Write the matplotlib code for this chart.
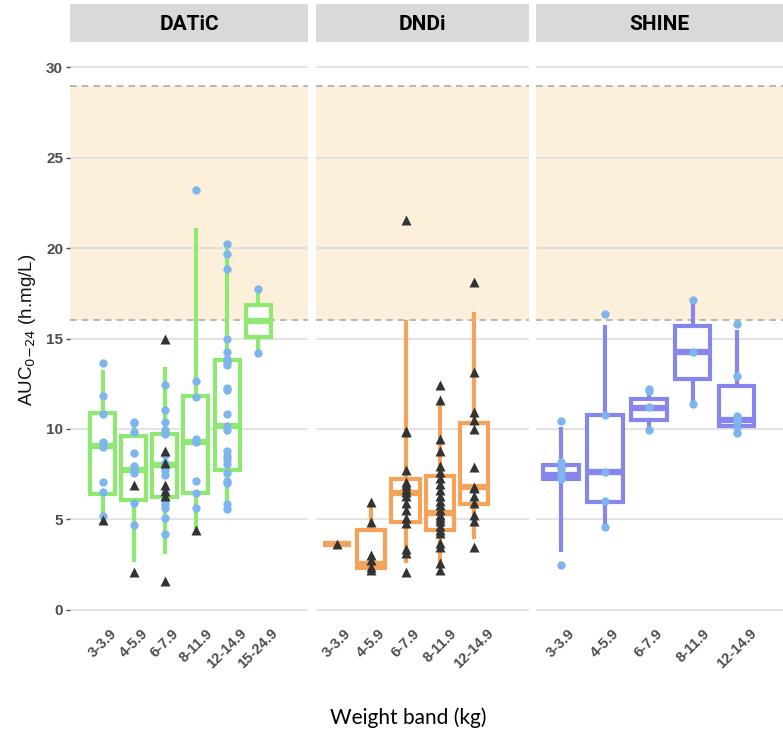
import matplotlib
matplotlib.use("Agg")
import matplotlib.pyplot as plt
import numpy as np

# ---------------- data ----------------
studies = ["DATiC", "DNDi", "SHINE"]

datic_bands = ["3-3.9", "4-5.9", "6-7.9", "8-11.9", "12-14.9", "15-24.9"]
datic_q1 = [6.42, 6.09, 6.22, 6.46, 7.71, 15.09]
datic_med = [9.04, 7.75, 7.99, 9.26, 10.15, 15.96]
datic_q3 = [10.88, 9.59, 9.74, 11.80, 13.80, 16.88]
datic_lo = [5.17, 2.62, 3.08, 4.43, 5.54, 14.20]
datic_hi = [13.28, 10.30, 13.41, 21.12, 20.00, 17.75]
datic_dots = [
    [13.65, 11.84, 10.85, 9.25, 9.0, 7.07, 6.5, 5.2],
    [10.39, 10.3, 9.82, 8.68, 7.93, 7.71, 7.56, 5.9, 4.7],
    [12.42, 11.07, 10.36, 9.92, 9.81, 9.74, 8.58, 8.1, 7.71, 7.43, 6.45, 6.09, 5.85, 5.63, 5.08, 4.16],
    [23.2, 12.64, 11.77, 9.44, 9.26, 7.11, 6.43, 5.63],
    [20.24, 19.7, 18.87, 14.98, 14.24, 13.87, 13.69, 13.56, 12.27, 12.14, 10.85, 10.15, 9.92,
     8.76, 8.48, 8.34, 8.03, 7.56, 7.11, 7.02, 5.87, 5.54],
    [17.75, 14.2],
]
datic_tris = [
    [4.95],
    [6.9, 2.07],
    [14.99, 8.76, 8.1, 6.9, 6.55, 6.3, 1.57],
    [4.43],
    [],
    [],
]

dndi_bands = ["3-3.9", "4-5.9", "6-7.9", "8-11.9", "12-14.9"]
dndi_q1 = [3.63, 2.31, 4.85, 4.43, 5.87]
dndi_med = [3.63, 2.55, 6.46, 5.35, 6.78]
dndi_q3 = [3.63, 4.43, 7.23, 7.38, 10.33]
dndi_lo = [3.63, 2.19, 2.60, 2.31, 3.88]
dndi_hi = [3.63, 5.94, 16.0, 11.53, 16.47]
dndi_dots = [[], [], [], [], []]
dndi_tris = [
    [3.63],
    [5.94, 4.83, 3.04, 2.73, 2.36, 2.18],
    [21.58, 9.9, 9.84, 7.7, 7.05, 6.9, 6.7, 6.5, 6.27, 5.9, 5.5, 5.07, 4.8, 3.33, 3.15, 2.1],
    [12.45, 11.58, 9.44, 8.76, 7.93, 7.6, 7.29, 6.93, 6.6, 6.27, 6.0, 5.76, 5.53, 5.26, 5.07,
     4.89, 4.65, 4.43, 4.24, 3.69, 3.47, 2.6, 2.19],
    [18.13, 13.13, 10.94, 10.48, 9.97, 7.9, 6.79, 6.73, 6.27, 5.9, 5.26, 4.89, 3.47],
]

shine_bands = ["3-3.9", "4-5.9", "6-7.9", "8-11.9", "12-14.9"]
shine_q1 = [7.24, 5.96, 10.51, 12.77, 10.15]
shine_med = [7.47, 7.64, 11.14, 14.24, 10.48]
shine_q3 = [7.99, 10.79, 11.68, 15.68, 12.40]
shine_lo = [3.19, 4.56, 9.92, 11.38, 9.87]
shine_hi = [10.09, 15.77, 12.17, 17.12, 15.50]
shine_dots = [
    [10.42, 8.15, 7.9, 7.8, 7.5, 7.2, 2.45],
    [16.36, 10.79, 7.64, 6.0, 4.56],
    [12.1, 12.2, 11.2, 9.92],
    [17.12, 14.24, 11.38],
    [15.83, 12.95, 10.74, 10.42, 10.09, 9.78],
]
shine_tris = [[], [], [], [], []]

target_lo, target_hi = 16, 29
y_ticks = [0, 5, 10, 15, 20, 25, 30]

# ---------------- style ----------------
box_colors = {"DATiC": "#8FE872", "DNDi": "#F5A35A", "SHINE": "#8686EC"}
dot_color = "#7DB5EE"
tri_color = "#333333"
shade_color = "#FDF0DB"
grid_color = "#DEDEDE"

panels = {
    "DATiC": (datic_bands, datic_q1, datic_med, datic_q3, datic_lo, datic_hi, datic_dots, datic_tris),
    "DNDi": (dndi_bands, dndi_q1, dndi_med, dndi_q3, dndi_lo, dndi_hi, dndi_dots, dndi_tris),
    "SHINE": (shine_bands, shine_q1, shine_med, shine_q3, shine_lo, shine_hi, shine_dots, shine_tris),
}

W, H = 783, 740
fig = plt.figure(figsize=(W / 100, H / 100), dpi=100)

layout = {
    "DATiC": ((70, 308), (-0.045, 7.6), 0.8),
    "DNDi": ((316, 529), (0.39, 6.6), 0.82),
    "SHINE": ((536, 783), (0.43, 6.05), 0.8),
}
panel_top, panel_bot = 44, 615
strip_top, strip_bot = 4, 42

strip_font = ["Liberation Sans Narrow", "Roboto", "DejaVu Sans"]

for si, name in enumerate(studies):
    bands, q1, med, q3, lo, hi, dots, tris = panels[name]
    (l, r), xlim, bw = layout[name]
    ax = fig.add_axes([l / W, 1 - panel_bot / H, (r - l) / W, (panel_bot - panel_top) / H])
    ax.set_xlim(*xlim)
    ax.set_ylim(-0.3, 31.3)
    ax.axhspan(target_lo, target_hi, color=shade_color, zorder=0, lw=0)
    for yt in y_ticks:
        ax.axhline(yt, color=grid_color, lw=1.2, zorder=0.5)
    for yv in (target_lo, target_hi):
        ax.axhline(yv, color="#ABABAB", lw=1.2, ls=(0, (4, 3)), zorder=0.7)

    pos = np.arange(1, len(bands) + 1)
    stats = []
    for i in range(len(bands)):
        stats.append(dict(med=med[i], q1=q1[i], q3=q3[i], whislo=lo[i], whishi=hi[i], fliers=[]))
    c = box_colors[name]
    ax.bxp(stats, positions=pos, widths=bw, showfliers=False, showcaps=False,
           patch_artist=True,
           boxprops=dict(facecolor="white", edgecolor=c, linewidth=3.0, zorder=2),
           whiskerprops=dict(color=c, linewidth=3.0, zorder=1.9, solid_capstyle="butt"),
           medianprops=dict(color=c, linewidth=4.5, zorder=2.1, solid_capstyle="butt"))

    for i in range(len(bands)):
        if dots[i]:
            ax.plot(np.full(len(dots[i]), pos[i]), dots[i], "o", color=dot_color,
                    ms=6, mec="none", zorder=3)
        if tris[i]:
            ax.plot(np.full(len(tris[i]), pos[i]), tris[i], "^", color=tri_color,
                    ms=7, mec="none", zorder=3.1)

    ax.set_xticks(pos)
    ax.set_xticklabels(bands, rotation=45, ha="center", va="top", fontsize=10.5,
                       fontweight="bold", color="#4D4D4D", family="Liberation Sans")
    ax.tick_params(axis="x", length=0, pad=8)
    for sp in ax.spines.values():
        sp.set_visible(False)
    if si == 0:
        ax.set_yticks(y_ticks)
        ax.set_yticklabels([str(v) for v in y_ticks], fontsize=11, fontweight="bold",
                           color="#4D4D4D", family="Liberation Sans")
        ax.tick_params(axis="y", length=3, width=1, color="#4D4D4D", pad=2)
        ax.set_ylabel(r"AUC$_{0\mathrm{-}24}$ (h.mg/L)", fontsize=13.5,
                      family="Liberation Sans", labelpad=6, color="#111111")
    else:
        ax.set_yticks(y_ticks)
        ax.set_yticklabels([])
        ax.tick_params(axis="y", length=0)

    sax = fig.add_axes([l / W, 1 - strip_bot / H, (r - l) / W, (strip_bot - strip_top) / H])
    sax.set_facecolor("#D9D9D9")
    sax.set_xticks([])
    sax.set_yticks([])
    for sp in sax.spines.values():
        sp.set_visible(False)
    sax.text(0.5, 0.45, name, ha="center", va="center", fontsize=15, fontweight="bold",
             family=strip_font, transform=sax.transAxes)

fig.text(408 / W, 1 - 718 / H, "Weight band (kg)", ha="center", va="center",
         fontsize=15, family=["Lato", "DejaVu Sans"])

fig.savefig("out.png", dpi=100)
